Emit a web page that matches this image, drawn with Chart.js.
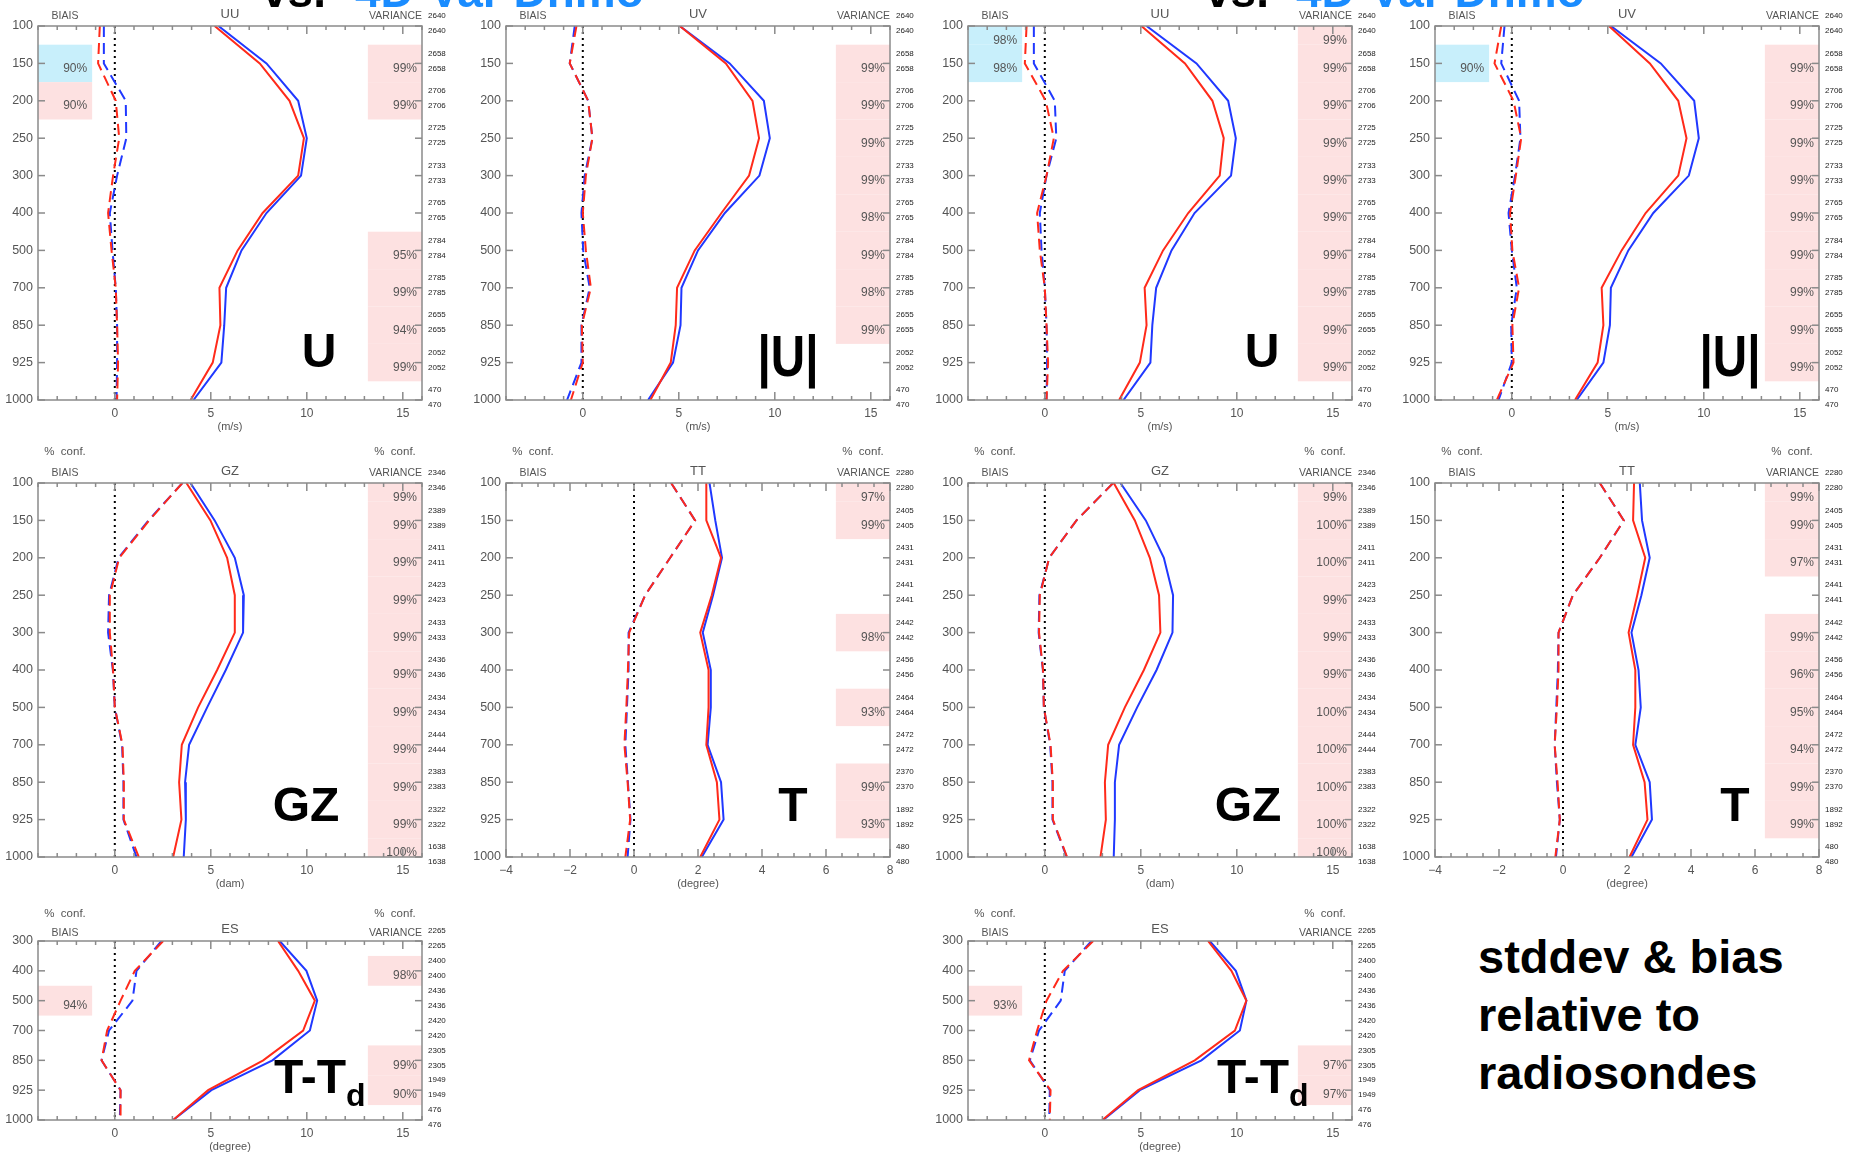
<!DOCTYPE html>
<html>
<head>
<meta charset="utf-8">
<script src="https://cdn.jsdelivr.net/npm/chart.js@4.4.1/dist/chart.umd.min.js"></script>
<style>
  html, body { margin: 0; padding: 0; background: #fff; width: 1856px; height: 1156px; overflow: hidden; position: relative; font-family: "Liberation Sans", Arial, sans-serif; }
  canvas { position: absolute; }
  .lbl { position: absolute; white-space: nowrap; font-weight: bold; line-height: 1; color: #000; }
</style>
</head>
<body>
<script>
// ─── pressure levels (hPa) ───
const levels = [100, 150, 200, 250, 300, 400, 500, 700, 850, 925, 1000];
const esLevels = [300, 400, 500, 700, 850, 925, 1000];

// ─── x tick labels ───
const wideTicks = [0, 5, 10, 15];
const tempTicks = [-4, -2, 0, 2, 4, 6, 8];

// ─── station counts (right column) ───
const uuCounts = [2640, 2658, 2706, 2725, 2733, 2765, 2784, 2785, 2655, 2052, 470];
const uvCounts = [2640, 2658, 2706, 2725, 2733, 2765, 2784, 2785, 2655, 2052, 470];
const gzCounts = [2346, 2389, 2411, 2423, 2433, 2436, 2434, 2444, 2383, 2322, 1638];
const ttCounts = [2280, 2405, 2431, 2441, 2442, 2456, 2464, 2472, 2370, 1892, 480];
const esCounts = [2265, 2400, 2436, 2420, 2305, 1949, 476];

// ─── UU, left ───
const uStdBlue1  = [5.4, 7.9, 9.55, 10.0, 9.7, 7.9, 6.6, 5.8, 5.7, 5.55, 4.1];
const uStdRed1   = [5.2, 7.55, 9.1, 9.85, 9.55, 7.7, 6.4, 5.45, 5.5, 5.1, 3.95];
const uBiasBlue1 = [-0.57, -0.57, 0.57, 0.6, 0.12, -0.26, -0.12, 0.05, 0.12, 0.12, 0.09];
const uBiasRed1  = [-0.78, -0.87, 0.05, 0.23, -0.09, -0.35, -0.17, 0.05, 0.12, 0.17, 0.12];
const uBiasConf1 = [null, 90, 90, null, null, null, null, null, null, null, null];
const uBiasTint1 = [null, 'cyan', 'pink', null, null, null, null, null, null, null, null];
const uVarConf1  = [null, 99, 99, null, null, null, 95, 99, 94, 99, null];

// ─── UV, left ───
const uvStdBlue1  = [5.05, 7.65, 9.43, 9.74, 9.2, 7.4, 6.0, 5.14, 5.09, 4.7, 3.4];
const uvStdRed1   = [5.05, 7.45, 8.84, 9.18, 8.66, 7.22, 5.83, 4.91, 4.84, 4.58, 3.52];
const uvBiasBlue1 = [-0.42, -0.68, 0.28, 0.5, 0.1, -0.07, 0.02, 0.36, -0.07, -0.07, -0.82];
const uvBiasRed1  = [-0.33, -0.68, 0.28, 0.5, 0.16, 0, 0.16, 0.42, -0.05, 0, -0.62];
const uvVarConf1  = [null, 99, 99, 99, 99, 98, 99, 98, 99, null, null];

// ─── UU, right ───
const uStdBlue2  = [5.3, 7.9, 9.55, 9.95, 9.7, 7.8, 6.6, 5.8, 5.6, 5.5, 4.1];
const uStdRed2   = [5.03, 7.3, 8.73, 9.32, 9.11, 7.47, 6.16, 5.2, 5.3, 4.95, 3.87];
const uBiasBlue2 = [-0.57, -0.57, 0.52, 0.6, 0.09, -0.26, -0.17, 0, 0.09, 0.12, 0.09];
const uBiasRed2  = [-0.95, -1.04, 0.05, 0.47, 0.09, -0.4, -0.26, 0, 0.09, 0.17, 0.09];
const uBiasConf2 = [98, 98, null, null, null, null, null, null, null, null, null];
const uBiasTint2 = ['cyan', 'cyan', null, null, null, null, null, null, null, null, null];
const uVarConf2  = [99, 99, 99, 99, 99, 99, 99, 99, 99, 99, null];

// ─── UV, right ───
const uvStdBlue2  = [5.16, 7.76, 9.5, 9.74, 9.22, 7.37, 6.07, 5.16, 5.11, 4.77, 3.38];
const uvStdRed2   = [5.06, 7.19, 8.67, 9.1, 8.67, 6.97, 5.72, 4.68, 4.77, 4.47, 3.29];
const uvBiasBlue2 = [-0.38, -0.55, 0.38, 0.45, 0.17, -0.17, 0, 0.26, -0.03, 0, -0.69];
const uvBiasRed2  = [-0.55, -0.9, 0.09, 0.49, 0.21, -0.09, 0.03, 0.38, 0.03, 0.09, -0.78];
const uvBiasConf2 = [null, 90, null, null, null, null, null, null, null, null, null];
const uvBiasTint2 = [null, 'cyan', null, null, null, null, null, null, null, null, null];
const uvVarConf2  = [null, 99, 99, 99, 99, 99, 99, 99, 99, 99, null];

// ─── GZ, left ───
const gzStdBlue1  = [3.94, 5.2, 6.25, 6.72, 6.68, 5.78, 4.81, 3.87, 3.66, 3.7, 3.59];
const gzStdRed1   = [3.73, 4.98, 5.85, 6.25, 6.25, 5.33, 4.34, 3.49, 3.35, 3.47, 3.04];
const gzBiasBlue1 = [3.52, 1.75, 0.2, -0.3, -0.35, -0.1, 0, 0.38, 0.45, 0.45, 1.13];
const gzBiasRed1  = [3.52, 1.79, 0.23, -0.26, -0.26, -0.09, 0, 0.4, 0.47, 0.47, 1.25];
const gzVarConf1  = [99, 99, 99, 99, 99, 99, 99, 99, 99, 99, 100];

// ─── TT, left ───
const ttStdBlue1  = [2.36, 2.54, 2.75, 2.47, 2.15, 2.4, 2.4, 2.3, 2.72, 2.8, 2.12];
const ttStdRed1   = [2.26, 2.26, 2.72, 2.43, 2.07, 2.33, 2.33, 2.26, 2.59, 2.67, 2.07];
const ttBiasBlue1 = [1.16, 1.91, 1.13, 0.35, -0.17, -0.17, -0.22, -0.27, -0.19, -0.11, -0.2];
const ttBiasRed1  = [1.16, 1.91, 1.13, 0.35, -0.15, -0.19, -0.24, -0.3, -0.2, -0.12, -0.27];
const ttVarConf1  = [97, 99, null, null, 98, null, 93, null, 99, 93, null];

// ─── GZ, right ───
const gzStdBlue2  = [3.94, 5.26, 6.2, 6.68, 6.65, 5.82, 4.81, 3.87, 3.65, 3.65, 3.59];
const gzStdRed2   = [3.59, 4.69, 5.47, 5.95, 6.02, 5.16, 4.17, 3.3, 3.13, 3.18, 2.9];
const gzBiasBlue2 = [3.56, 1.65, 0.23, -0.28, -0.32, -0.1, -0.05, 0.28, 0.4, 0.4, 1.14];
const gzBiasRed2  = [3.56, 1.65, 0.23, -0.26, -0.3, -0.09, -0.05, 0.3, 0.42, 0.42, 1.16];
const gzVarConf2  = [99, 100, 100, 99, 99, 99, 100, 100, 100, 100, 100];

// ─── TT, right ───
const ttStdBlue2  = [2.4, 2.47, 2.71, 2.45, 2.14, 2.36, 2.43, 2.26, 2.71, 2.78, 2.14];
const ttStdRed2   = [2.22, 2.19, 2.57, 2.32, 2.05, 2.26, 2.26, 2.19, 2.55, 2.64, 2.08];
const ttBiasBlue2 = [1.15, 1.9, 1.15, 0.31, -0.14, -0.16, -0.21, -0.26, -0.19, -0.1, -0.22];
const ttBiasRed2  = [1.15, 1.9, 1.15, 0.31, -0.14, -0.14, -0.19, -0.26, -0.17, -0.1, -0.24];
const ttVarConf2  = [99, 99, 97, null, 99, 96, 95, 94, 99, 99, null];

// ─── ES, left / right ───
const esStdBlue1  = [8.59, 9.98, 10.54, 10.16, 8.21, 5.03, 3.04];
const esStdRed1   = [8.5, 9.55, 10.42, 9.81, 7.73, 4.86, 3.04];
const esBiasBlue1 = [2.43, 1.13, 0.92, -0.3, -0.69, 0.3, 0.26];
const esBiasRed1  = [2.52, 1.04, 0.3, -0.4, -0.69, 0.3, 0.3];
const esBiasConf1 = [null, null, 94, null, null, null, null];
const esBiasTint1 = [null, null, 'pink', null, null, null, null];
const esVarConf1  = [null, 98, null, null, 99, 90, null];

const esStdBlue2  = [8.59, 9.95, 10.5, 10.16, 8.16, 4.95, 3.04];
const esStdRed2   = [8.5, 9.72, 10.5, 9.9, 7.81, 4.86, 3.0];
const esBiasBlue2 = [2.43, 1.04, 0.83, -0.3, -0.78, 0.26, 0.23];
const esBiasRed2  = [2.52, 0.95, 0.09, -0.4, -0.82, 0.3, 0.26];
const esBiasConf2 = [null, null, 93, null, null, null, null];
const esBiasTint2 = [null, null, 'pink', null, null, null, null];
const esVarConf2  = [null, null, null, null, 97, 97, null];

const noConf = [null, null, null, null, null, null, null, null, null, null, null];

// ─── styles ───
const BLUE = '#2038ff', RED = '#ff2a1a';
const PINK = '#fde1e1', CYAN = '#c8effb';
const GREY = '#8a8a8a', TXT = '#555';
const FONT = '"Liberation Sans", Arial, sans-serif';

// panel layout: plot area [left, top, right, bottom] in page pixels
// xr = [min, max, major tick step, minor tick step]
const panels = [
  { rect: [38, 26, 422, 400], lev: levels, xr: [-4, 16, 5, 1], xt: wideTicks, title: 'UU', unit: '(m/s)', row: 0,
    counts: uuCounts, blue: uStdBlue1, red: uStdRed1, bBlue: uBiasBlue1, bRed: uBiasRed1,
    bConf: uBiasConf1, bTint: uBiasTint1, vConf: uVarConf1 },
  { rect: [506, 26, 890, 400], lev: levels, xr: [-4, 16, 5, 1], xt: wideTicks, title: 'UV', unit: '(m/s)', row: 0,
    counts: uvCounts, blue: uvStdBlue1, red: uvStdRed1, bBlue: uvBiasBlue1, bRed: uvBiasRed1,
    bConf: noConf, bTint: noConf, vConf: uvVarConf1 },
  { rect: [968, 26, 1352, 400], lev: levels, xr: [-4, 16, 5, 1], xt: wideTicks, title: 'UU', unit: '(m/s)', row: 0,
    counts: uuCounts, blue: uStdBlue2, red: uStdRed2, bBlue: uBiasBlue2, bRed: uBiasRed2,
    bConf: uBiasConf2, bTint: uBiasTint2, vConf: uVarConf2 },
  { rect: [1435, 26, 1819, 400], lev: levels, xr: [-4, 16, 5, 1], xt: wideTicks, title: 'UV', unit: '(m/s)', row: 0,
    counts: uvCounts, blue: uvStdBlue2, red: uvStdRed2, bBlue: uvBiasBlue2, bRed: uvBiasRed2,
    bConf: uvBiasConf2, bTint: uvBiasTint2, vConf: uvVarConf2 },

  { rect: [38, 483, 422, 857], lev: levels, xr: [-4, 16, 5, 1], xt: wideTicks, title: 'GZ', unit: '(dam)', row: 1,
    counts: gzCounts, blue: gzStdBlue1, red: gzStdRed1, bBlue: gzBiasBlue1, bRed: gzBiasRed1,
    bConf: noConf, bTint: noConf, vConf: gzVarConf1 },
  { rect: [506, 483, 890, 857], lev: levels, xr: [-4, 8, 2, 0.5], xt: tempTicks, title: 'TT', unit: '(degree)', row: 1,
    counts: ttCounts, blue: ttStdBlue1, red: ttStdRed1, bBlue: ttBiasBlue1, bRed: ttBiasRed1,
    bConf: noConf, bTint: noConf, vConf: ttVarConf1 },
  { rect: [968, 483, 1352, 857], lev: levels, xr: [-4, 16, 5, 1], xt: wideTicks, title: 'GZ', unit: '(dam)', row: 1,
    counts: gzCounts, blue: gzStdBlue2, red: gzStdRed2, bBlue: gzBiasBlue2, bRed: gzBiasRed2,
    bConf: noConf, bTint: noConf, vConf: gzVarConf2 },
  { rect: [1435, 483, 1819, 857], lev: levels, xr: [-4, 8, 2, 0.5], xt: tempTicks, title: 'TT', unit: '(degree)', row: 1,
    counts: ttCounts, blue: ttStdBlue2, red: ttStdRed2, bBlue: ttBiasBlue2, bRed: ttBiasRed2,
    bConf: noConf, bTint: noConf, vConf: ttVarConf2 },

  { rect: [38, 941, 422, 1120], lev: esLevels, xr: [-4, 16, 5, 1], xt: wideTicks, title: 'ES', unit: '(degree)', row: 2,
    counts: esCounts, blue: esStdBlue1, red: esStdRed1, bBlue: esBiasBlue1, bRed: esBiasRed1,
    bConf: esBiasConf1, bTint: esBiasTint1, vConf: esVarConf1 },
  { rect: [968, 941, 1352, 1120], lev: esLevels, xr: [-4, 16, 5, 1], xt: wideTicks, title: 'ES', unit: '(degree)', row: 2,
    counts: esCounts, blue: esStdBlue2, red: esStdRed2, bBlue: esBiasBlue2, bRed: esBiasRed2,
    bConf: esBiasConf2, bTint: esBiasTint2, vConf: esVarConf2 }
];

const PAD_L = 36, PAD_R = 36, PAD_T = 48, PAD_B = 40;

function makeDeco(p) {
  return {
    id: 'deco',
    beforeDatasetsDraw(chart) {
      const { ctx, chartArea: a, scales: { x, y } } = chart;
      const bw = (a.right - a.left) * 0.141;
      ctx.save();
      ctx.beginPath();
      ctx.rect(a.left, a.top, a.right - a.left, a.bottom - a.top);
      ctx.clip();
      p.lev.forEach((lv, i) => {
        const y0 = y.getPixelForValue(i - 0.5), y1 = y.getPixelForValue(i + 0.5);
        if (p.vConf[i] != null) { ctx.fillStyle = PINK; ctx.fillRect(a.right - bw, y0, bw, y1 - y0); }
        if (p.bConf[i] != null) {
          ctx.fillStyle = p.bTint[i] === 'cyan' ? CYAN : PINK;
          ctx.fillRect(a.left, y0, bw, y1 - y0);
        }
      });
      ctx.restore();

      ctx.save();
      ctx.font = '12px ' + FONT;
      ctx.fillStyle = TXT;
      ctx.textAlign = 'right';
      ctx.textBaseline = 'middle';
      p.lev.forEach((lv, i) => {
        const ty = Math.min(Math.max(y.getPixelForValue(i) + 5, a.top + 15), a.bottom - 4);
        if (p.vConf[i] != null) ctx.fillText(p.vConf[i] + '%', a.right - 5, ty);
        if (p.bConf[i] != null) ctx.fillText(p.bConf[i] + '%', a.left + bw - 5, ty);
      });
      // zero line
      const x0 = x.getPixelForValue(0);
      ctx.strokeStyle = '#000';
      ctx.lineWidth = 2;
      ctx.setLineDash([2, 4]);
      ctx.beginPath();
      ctx.moveTo(x0, a.top);
      ctx.lineTo(x0, a.bottom);
      ctx.stroke();
      ctx.restore();
    },
    afterDraw(chart) {
      const { ctx, chartArea: a, scales: { x, y } } = chart;
      const seg = (x1, y1, x2, y2) => { ctx.beginPath(); ctx.moveTo(x1, y1); ctx.lineTo(x2, y2); ctx.stroke(); };
      ctx.save();
      ctx.strokeStyle = GREY;
      ctx.lineWidth = 1.5;
      ctx.strokeRect(a.left, a.top, a.right - a.left, a.bottom - a.top);
      p.lev.forEach((lv, i) => {
        const py = y.getPixelForValue(i);
        seg(a.left, py, a.left + 7, py);
        seg(a.right - 7, py, a.right, py);
      });
      const [xmin, xmax, major, minor] = p.xr;
      for (let k = 0; xmin + k * minor <= xmax + 1e-9; k++) {
        const v = xmin + k * minor;
        const px = x.getPixelForValue(v);
        const isMajor = Math.abs(v / major - Math.round(v / major)) < 1e-6;
        const len = isMajor ? 8 : 4;
        seg(px, a.bottom, px, a.bottom - len);
        seg(px, a.top, px, a.top + len);
      }

      // headings
      const dyBias = p.row === 2 ? 8 : 10;
      const dyConf = p.row === 2 ? 27 : 31;
      ctx.fillStyle = TXT;
      ctx.textBaseline = 'middle';
      ctx.font = '10.5px ' + FONT;
      ctx.textAlign = 'center';
      ctx.fillText('BIAIS', a.left + 27, a.top - dyBias);
      ctx.textAlign = 'right';
      ctx.fillText('VARIANCE', a.right, a.top - dyBias);
      if (p.row > 0) {
        ctx.font = '11.5px ' + FONT;
        ctx.textAlign = 'center';
        ctx.fillText('%  conf.', a.left + 27, a.top - dyConf);
        ctx.fillText('%  conf.', a.right - 27, a.top - dyConf);
      }
      ctx.font = '13px ' + FONT;
      ctx.textAlign = 'center';
      ctx.fillText(p.title, (a.left + a.right) / 2, a.top - 12);

      // counts
      ctx.font = '8px ' + FONT;
      ctx.fillStyle = '#222';
      ctx.textAlign = 'left';
      p.lev.forEach((lv, i) => {
        const py = y.getPixelForValue(i);
        ctx.fillText(String(p.counts[i]), a.right + 6, py - 10);
        ctx.fillText(String(p.counts[i]), a.right + 6, py + 5);
      });

      // unit
      ctx.font = '11px ' + FONT;
      ctx.fillStyle = TXT;
      ctx.textAlign = 'center';
      ctx.fillText(p.unit, (a.left + a.right) / 2, a.bottom + 27);
      ctx.restore();
    }
  };
}

const pts = arr => arr.map((v, i) => ({ x: v, y: i }));

panels.forEach(p => {
  const [L, T, R, B] = p.rect;
  const cv = document.createElement('canvas');
  const w = R - L + PAD_L + PAD_R, h = B - T + PAD_T + PAD_B;
  cv.width = w; cv.height = h;
  cv.style.left = (L - PAD_L) + 'px';
  cv.style.top = (T - PAD_T) + 'px';
  cv.style.width = w + 'px';
  cv.style.height = h + 'px';
  document.body.appendChild(cv);

  new Chart(cv, {
    type: 'line',
    data: {
      datasets: [
        { data: pts(p.red), borderColor: RED, borderWidth: 2 },
        { data: pts(p.blue), borderColor: BLUE, borderWidth: 2 },
        { data: pts(p.bRed), borderColor: RED, borderWidth: 2, borderDash: [11, 6] },
        { data: pts(p.bBlue), borderColor: BLUE, borderWidth: 2, borderDash: [11, 6] }
      ]
    },
    options: {
      responsive: false,
      animation: false,
      devicePixelRatio: 1,
      indexAxis: 'y',
      layout: { padding: { top: PAD_T, right: PAD_R, left: 0, bottom: 0 } },
      elements: { point: { radius: 0 }, line: { tension: 0, fill: false } },
      plugins: { legend: { display: false }, tooltip: { enabled: false } },
      scales: {
        x: {
          type: 'linear', position: 'bottom', min: p.xr[0], max: p.xr[1],
          grid: { display: false, drawTicks: false }, border: { display: false },
          ticks: {
            autoSkip: false, maxRotation: 0, padding: 6, color: TXT,
            font: { family: FONT, size: 12 },
            callback: v => String(v).replace('-', '\u2212')
          },
          afterBuildTicks: s => { s.ticks = p.xt.map(v => ({ value: v })); },
          afterFit: s => { s.height = PAD_B; }
        },
        y: {
          type: 'linear', position: 'left', reverse: true, min: 0, max: p.lev.length - 1,
          grid: { display: false, drawTicks: false }, border: { display: false },
          ticks: {
            stepSize: 1, autoSkip: false, padding: 5, color: TXT,
            font: { family: FONT, size: 12.5 },
            callback: v => p.lev[v]
          },
          afterFit: s => { s.width = PAD_L; }
        }
      }
    },
    plugins: [makeDeco(p)]
  });
});

// ─── overlay text ───
function place(html, x, base, size, align, extra) {
  const d = document.createElement('div');
  d.className = 'lbl';
  d.innerHTML = html;
  d.style.fontSize = size + 'px';
  d.style.left = x + 'px';
  d.style.top = (base - 0.8465 * size) + 'px';
  if (align === 'center') d.style.transform = 'translateX(-50%)' + (extra || '');
  document.body.appendChild(d);
  return d;
}

place('vs.', 262, 7, 46, 'left');
place('<span style="color:#1a8cff">4D-Var Dnmo</span>', 355, 7, 46, 'left');
place('vs.', 1205, 7, 46, 'left');
place('<span style="color:#1a8cff">4D-Var Dnmo</span>', 1296, 7, 46, 'left');

place('U', 319, 368, 48, 'center');
place('|U|', 788, 376, 58, 'center', ' scaleX(0.82)');
place('U', 1262, 368, 48, 'center');
place('|U|', 1730, 376, 58, 'center', ' scaleX(0.82)');
place('GZ', 306, 822, 48, 'center');
place('T', 793, 822, 48, 'center');
place('GZ', 1248, 822, 48, 'center');
place('T', 1735, 822, 48, 'center');
place('T-T<span style="font-size:32px;position:relative;top:13px">d</span>', 274, 1094, 48, 'left');
place('T-T<span style="font-size:32px;position:relative;top:13px">d</span>', 1217, 1094, 48, 'left');

const cap = place('stddev &amp; bias<br>relative to<br>radiosondes', 1478, 973, 47, 'left');
cap.style.lineHeight = '58px';
cap.style.top = (973 - ((58 - 1.117 * 47) / 2 + 0.905 * 47)) + 'px';
</script>
</body>
</html>
